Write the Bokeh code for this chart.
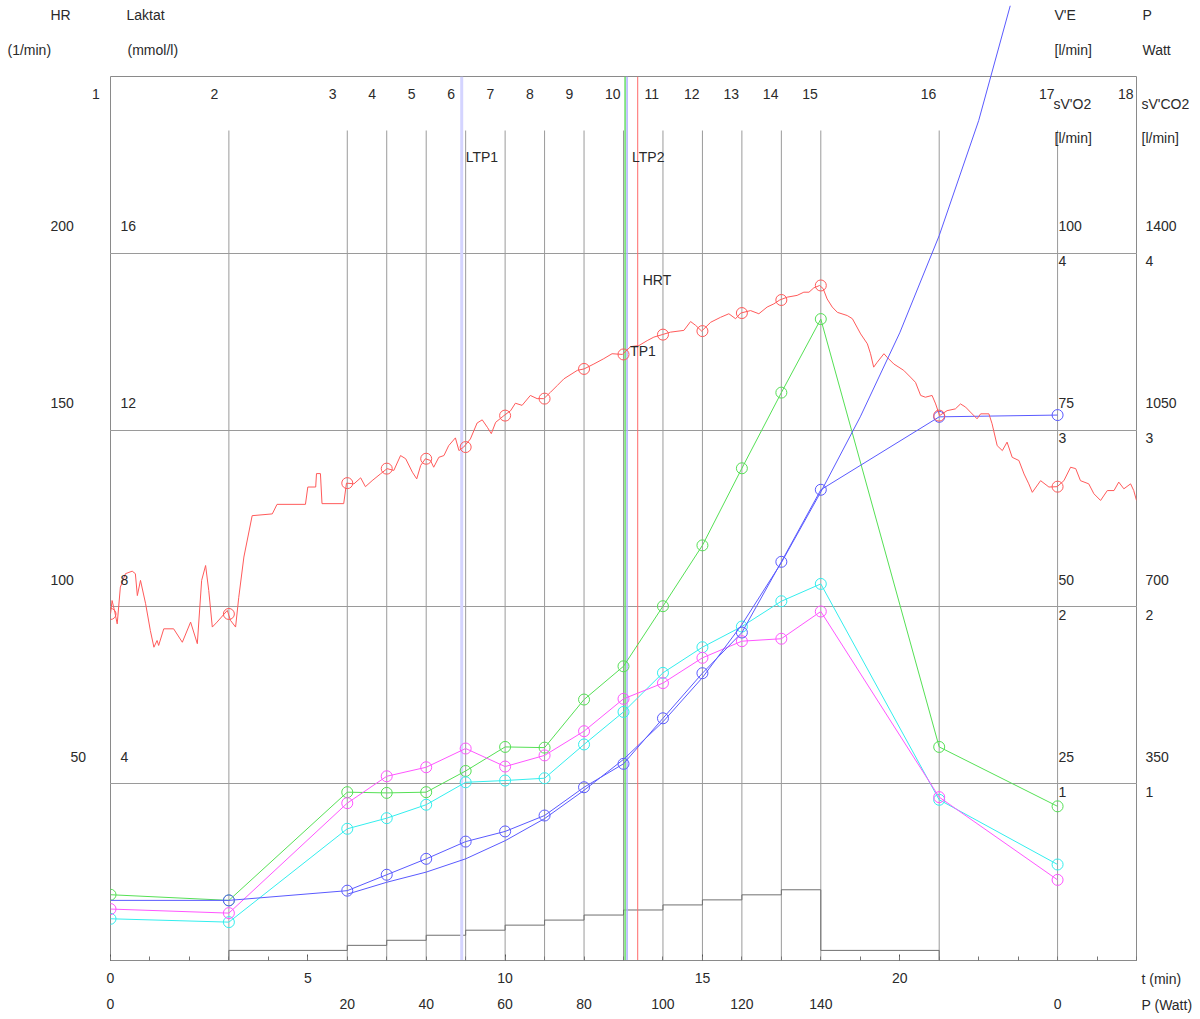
from bokeh.plotting import figure
from bokeh.models import Range1d, FixedTicker, LinearAxis, Grid
from bokeh.core.properties import value
from bokeh.embed import file_html
from bokeh.resources import INLINE

# ---------------- data ----------------
stage_t = [0, 3, 6, 7, 8, 9, 10, 11, 12, 13, 14, 15, 16, 17, 18, 21, 24, 26]
stage_no = [str(i) for i in range(1, 19)]

hr_t = [0, 0.04, 0.11, 0.17, 0.25, 0.38, 0.55, 0.63, 0.68, 0.76, 0.89, 1.01, 1.10, 1.18, 1.22,
        1.35, 1.60, 1.82, 2.03, 2.20, 2.31, 2.41, 2.49, 2.58, 2.70, 2.96, 3.04, 3.17, 3.25, 3.38,
        3.59, 4.10, 4.22, 4.94, 5.00, 5.20, 5.22, 5.32, 5.36, 5.91, 5.98, 6.17, 6.34, 6.46, 6.63,
        6.84, 7.01, 7.18, 7.35, 7.48, 7.65, 7.76, 7.86, 7.98, 8.11, 8.19, 8.32, 8.45, 8.57, 8.74,
        8.83, 8.95, 9.12, 9.29, 9.42, 9.55, 9.65, 9.76, 9.97, 10.14, 10.26, 10.43, 10.64, 10.81,
        10.98, 11.15, 11.32, 11.49, 11.83, 12.00, 12.25, 12.50, 12.71, 12.97, 13.18, 13.39, 13.60,
        13.77, 13.98, 14.19, 14.53, 14.70, 14.83, 14.98, 15.21, 15.46, 15.67, 15.84, 15.97, 16.22,
        16.43, 16.64, 16.81, 16.96, 17.15, 17.40, 17.57, 17.70, 17.82, 17.97, 18.06, 18.16, 18.29,
        18.42, 18.67, 18.80, 19.01, 19.18, 19.26, 19.34, 19.43, 19.60, 19.68, 19.85, 20.10, 20.27,
        20.40, 20.53, 20.65, 20.82, 20.91, 21.01, 21.20, 21.41, 21.54, 21.67, 21.79, 21.96, 22.05,
        22.26, 22.34, 22.47, 22.60, 22.72, 22.85, 23.02, 23.15, 23.27, 23.36, 23.57, 23.78, 23.99,
        24.16, 24.33, 24.46, 24.58, 24.79, 24.92, 25.09, 25.26, 25.43, 25.55, 25.68, 25.85, 25.93,
        26.0]
hr_v = [98.0, 101.8, 98.5, 95.2, 105.6, 109.4, 110.1, 109.4, 103.2, 107.5, 100.9, 93.3, 88.6, 90.5,
        89.1, 93.8, 93.8, 90.0, 95.7, 89.6, 107.5, 111.7, 104.6, 94.3, 95.7, 99.0, 96.2, 94.3, 102.7,
        114.1, 125.8, 126.3, 129.0, 129.0, 133.9, 133.9, 137.7, 137.7, 129.2, 129.2, 135.0, 134.8,
        136.5, 134.0, 135.7, 137.6, 139.1, 138.6, 142.8, 141.9, 138.1, 136.2, 140.0, 141.9, 141.4,
        139.5, 142.3, 142.8, 145.6, 147.8, 144.2, 145.2, 147.5, 152.0, 152.9, 150.8, 149.0, 152.2,
        154.1, 155.5, 157.6, 157.0, 159.8, 158.9, 158.9, 160.7, 162.6, 164.5, 166.9, 167.3, 168.7,
        170.2, 171.6, 171.4, 173.6, 173.9, 175.3, 176.3, 177.0, 177.7, 178.2, 180.7, 179.6, 178.0,
        180.5, 181.9, 182.9, 181.5, 183.1, 183.8, 182.9, 184.8, 185.7, 186.8, 187.6, 188.1, 189.0,
        189.0, 190.2, 190.9, 190.0, 187.1, 184.8, 183.3, 182.4, 181.5, 177.2, 174.4, 171.6, 167.8,
        169.2, 171.6, 170.6, 168.7, 166.9, 165.0, 163.5, 159.8, 159.3, 159.8, 157.4, 154.1, 155.5,
        156.0, 157.4, 156.5, 155.1, 153.2, 154.6, 154.6, 151.8, 145.6, 144.2, 146.6, 142.3, 141.4,
        137.6, 134.8, 132.4, 135.7, 133.9, 134.0, 135.7, 139.5, 139.1, 135.7, 134.8, 132.0, 130.1,
        132.9, 132.9, 135.3, 133.4, 134.8, 132.9, 130.1]

meas_t = [0, 3, 6, 7, 8, 9, 10, 11, 12, 13, 14, 15, 16, 17, 18, 21, 24]
hr_meas = [98.0, 98.0, 135.0, 139.1, 141.9, 145.2, 154.1, 158.9, 167.3, 171.4, 177.0, 178.0,
           183.1, 186.8, 190.9, 154.1, 134.0]
ve = [9.3, 8.5, 23.8, 23.7, 23.8, 26.8, 30.2, 30.1, 36.9, 41.6, 50.1, 58.7, 69.6, 80.3, 90.7,
      30.2, 21.8]                                   # V'E  [l/min]
vco2 = [0.291, 0.268, 0.890, 1.042, 1.093, 1.199, 1.097, 1.160, 1.297, 1.480, 1.569, 1.712,
        1.806, 1.820, 1.974, 0.924, 0.456]          # sV'CO2 [l/min]
vo2 = [0.236, 0.217, 0.745, 0.805, 0.881, 1.008, 1.018, 1.031, 1.222, 1.406, 1.627, 1.772,
       1.889, 2.032, 2.130, 0.909, 0.543]           # sV'O2 [l/min]
lact = [1.36, 1.36, 1.58, 1.94, 2.30, 2.69, 2.92, 3.28, 3.92, 4.45, 5.48, 6.50, 7.42, 9.02,
        10.65, 12.30, 12.34]                        # Laktat [mmol/l]

lact_fit_t = [6, 7, 8, 9, 10, 11, 12, 13, 14, 15, 16, 17, 18, 19, 20, 21, 22, 22.8]
lact_fit = [1.50, 1.77, 2.00, 2.30, 2.71, 3.21, 3.85, 4.55, 5.40, 6.40, 7.60, 9.00, 10.60,
            12.30, 14.20, 16.40, 19.00, 21.60]

power_t = [0, 3, 6, 7, 8, 9, 10, 11, 12, 13, 14, 15, 16, 17, 18, 21, 24, 26]
power_w = [0, 20, 30, 40, 50, 60, 70, 80, 90, 100, 110, 120, 130, 140, 20, 0, 0, 0]
p_tick_t = [0, 6, 8, 10, 12, 14, 16, 18, 24]
p_tick_w = ["0", "20", "40", "60", "80", "100", "120", "140", "0"]

hr_ticks = [50, 100, 150, 200]
lact_ticks = ["4", "8", "12", "16"]
ve_ticks = ["25", "50", "75", "100"]
p_ticks = ["350", "700", "1050", "1400"]
gas_ticks = ["1", "2", "3", "4"]

ltp1_t, ltp2_t, tp1_t, hrt_t = 8.9, 13.09, 13.04, 13.36

# scale factors of the secondary axes onto the HR axis
F_LACT, F_VE, F_GAS, F_P = 12.5, 2.0, 50.0, 1.0 / 7.0

# ---------------- layout helpers (page pixels -> data) ----------------
X0, X1, YB, YT = 110.0, 1136.0, 960.0, 76.0
TMAX, HMAX = 26.0, 250.0
W, H = 1200, 1019
def dx(X):
    return (X - X0) / (X1 - X0) * TMAX
def dy(Y):
    return (YB - Y) / (YB - YT) * HMAX
PPU = (YB - YT) / HMAX

FONT = "Liberation Sans"
FS = "14px"
TXT = "#2a2a2a"

p = figure(width=W, height=H, x_range=Range1d(0, TMAX), y_range=Range1d(0, HMAX),
           output_backend="svg", toolbar_location=None, y_axis_location=None,
           min_border_left=int(X0), min_border_right=int(W - X1), min_border_top=int(YT),
           min_border_bottom=int(H - YB))
p.xgrid.visible = False
p.outline_line_color = "#8a8a8a"
p.background_fill_color = "white"
p.border_fill_color = "white"

# time axis
ax = p.xaxis[0]
ax.ticker = FixedTicker(ticks=[0, 5, 10, 15, 20], minor_ticks=list(range(0, 27)))
ax.major_tick_in = 6
ax.major_tick_out = 0
ax.minor_tick_in = 4
ax.minor_tick_out = 0
ax.major_tick_line_color = "#555555"
ax.minor_tick_line_color = "#777777"
ax.axis_line_color = "#8a8a8a"
ax.major_label_text_font = FONT
ax.major_label_text_font_size = FS
ax.major_label_text_color = TXT
ax.major_label_standoff = 12

# power axis
pax = LinearAxis(ticker=FixedTicker(ticks=p_tick_t),
                 major_label_overrides={t: w for t, w in zip(p_tick_t, p_tick_w)})
pax.major_tick_in = 0
pax.major_tick_out = 0
pax.minor_tick_in = 0
pax.minor_tick_out = 0
pax.axis_line_color = None
pax.major_label_text_font = FONT
pax.major_label_text_font_size = FS
pax.major_label_text_color = TXT
pax.major_label_standoff = 13
p.add_layout(pax, "below")

# horizontal grid
grid = Grid(dimension=1, ticker=FixedTicker(ticks=hr_ticks), grid_line_color="#9a9a9a",
            grid_line_width=1)
p.add_layout(grid)

# stage lines
top = dy(130)
p.segment(x0=stage_t[1:-1], y0=[0] * (len(stage_t) - 2), x1=stage_t[1:-1],
          y1=[top] * (len(stage_t) - 2), line_color="#9a9a9a", line_width=1)

# power steps
p.step(x=power_t, y=[w * F_P for w in power_w], mode="after", line_color="#707070", line_width=1)

# threshold lines
p.segment(x0=[ltp1_t], y0=[0], x1=[ltp1_t], y1=[HMAX], line_color="#d4d4ff", line_width=3)
p.segment(x0=[tp1_t], y0=[0], x1=[tp1_t], y1=[HMAX], line_color="#66dd66", line_width=1.5)
p.segment(x0=[ltp2_t], y0=[0], x1=[ltp2_t], y1=[HMAX], line_color="#b0b0ff", line_width=1.5)
p.segment(x0=[hrt_t], y0=[0], x1=[hrt_t], y1=[HMAX], line_color="#ff6a6a", line_width=1)

MS = 11
def series(vals, fac, color, first_marker=0):
    ys = [v * fac for v in vals]
    p.line(meas_t, ys, line_color=color, line_width=1)
    p.scatter(meas_t[first_marker:], ys[first_marker:], marker="circle", size=MS,
              fill_color=None, line_color=color, line_width=1)

series(ve, F_VE, "#55e055")
series(vo2, F_GAS, "#33eeee")
series(vco2, F_GAS, "#ff55ff")
series(lact, F_LACT, "#5a5aff", first_marker=1)
p.line(lact_fit_t, [v * F_LACT for v in lact_fit], line_color="#5a5aff", line_width=1, level="overlay")

# HR
p.line(hr_t, hr_v, line_color="#ff5a5a", line_width=1)
p.scatter(meas_t, hr_meas, marker="circle", size=MS, fill_color=None, line_color="#ff5a5a", line_width=1)

def lab(x, y, text, align="left", xo=0):
    p.text(x=[x], y=[y], text=[text], x_offset=xo, text_font=value(FONT),
           text_font_size=value(FS), text_color=TXT, text_align=align,
           text_baseline="middle", level="overlay")

# stage numbers
for t, n in zip(stage_t, stage_no):
    lab(t, dy(93), n, xo=-18.5)

# headers
lab(dx(50), dy(14), "HR")
lab(dx(7), dy(49), "(1/min)")
lab(dx(126), dy(14), "Laktat")
lab(dx(127), dy(49), "(mmol/l)")
lab(dx(1054), dy(14), "V'E")
lab(dx(1054), dy(49), "[l/min]")
lab(dx(1142), dy(14), "P")
lab(dx(1142), dy(49), "Watt")
lab(dx(1053), dy(103), "sV'O2")
lab(dx(1054), dy(137), "[l/min]")
lab(dx(1141), dy(103), "sV'CO2")
lab(dx(1141), dy(137), "[l/min]")
lab(dx(1141), dy(978), "t (min)")
lab(dx(1141), dy(1004), "P (Watt)")

# tick labels of the value axes
hr_left = [70, 50, 50, 50]
for v, xl in zip(hr_ticks, hr_left):
    lab(dx(xl), v + 27 / PPU, str(v))
for v, s in zip(hr_ticks, lact_ticks):
    lab(dx(120), v + 27 / PPU, s)
for v, s in zip(hr_ticks, ve_ticks):
    lab(dx(1058), v + 27 / PPU, s)
for v, s in zip(hr_ticks, p_ticks):
    lab(dx(1145), v + 27 / PPU, s)
for v, s in zip(hr_ticks, gas_ticks):
    lab(dx(1058), v - 8 / PPU, s)
    lab(dx(1145), v - 8 / PPU, s)

# threshold labels
lab(ltp1_t, dy(156), "LTP1", xo=4)
lab(ltp2_t, dy(156), "LTP2", xo=5)
lab(hrt_t, dy(279), "HRT", xo=5)
lab(tp1_t, dy(350), "TP1", xo=5)

open("out.html", "w").write(file_html(p, INLINE))
